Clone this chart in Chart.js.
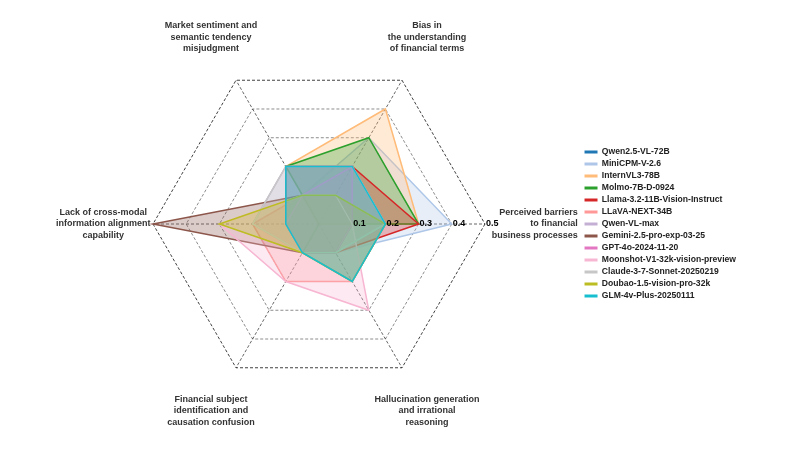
<!DOCTYPE html>
<html lang="en">
<head>
<meta charset="UTF-8" />
<title>Radar</title>
<script src="https://cdn.jsdelivr.net/npm/chart.js"></script>
<style>
  body { margin: 0; background: #fff; }
</style>
</head>
<body>
<canvas id="radarChart" width="797" height="449"></canvas>
<script>
// axes, clockwise from the right
const axisLabels = [
    ["Perceived barriers", "to financial", "business processes"],
    ["Hallucination generation", "and irrational", "reasoning"],
    ["Financial subject", "identification and", "causation confusion"],
    ["Lack of cross-modal", "information alignment", "capability"],
    ["Market sentiment and", "semantic tendency", "misjudgment"],
    ["Bias in", "the understanding", "of financial terms"],
];
const tickLabels = ["0.1", "0.2", "0.3", "0.4", "0.5"];

const models = [
    "Qwen2.5-VL-72B",
    "MiniCPM-V-2.6",
    "InternVL3-78B",
    "Molmo-7B-D-0924",
    "Llama-3.2-11B-Vision-Instruct",
    "LLaVA-NEXT-34B",
    "Qwen-VL-max",
    "Gemini-2.5-pro-exp-03-25",
    "GPT-4o-2024-11-20",
    "Moonshot-V1-32k-vision-preview",
    "Claude-3-7-Sonnet-20250219",
    "Doubao-1.5-vision-pro-32k",
    "GLM-4v-Plus-20250111",
];
const colors = [
    "#1f77b4", "#aec7e8", "#ffbb78", "#2ca02c", "#d62728", "#ff9896", "#c5b0d5",
    "#8c564b", "#e377c2", "#f7b6d2", "#c7c7c7", "#bcbd22", "#17becf",
];

const qwen25 = [0.2, 0.2, 0.1, 0.1, 0.2, 0.2];
const minicpm = [0.4, 0.1, 0.1, 0.1, 0.1, 0.3];
const internvl = [0.3, 0, 0, 0, 0.2, 0.4];
const molmo = [0.3, 0, 0.1, 0, 0.2, 0.3];
const llama = [0.3, 0.1, 0.1, 0.1, 0.2, 0.2];
const llava = [0.2, 0.2, 0.2, 0.2, 0.1, 0.1];
const qwenMax = [0.2, 0.1, 0.1, 0.2, 0.2, 0.2];
const gemini = [0.1, 0.1, 0.1, 0.5, 0.1, 0.1];
const gpt4o = [0.1, 0.1, 0.1, 0.1, 0.1, 0.2];
const moonshot = [0.1, 0.3, 0.2, 0.3, 0.1, 0.1];
const claude = [0.2, 0.1, 0.1, 0.2, 0.2, 0.2];
const doubao = [0.2, 0.2, 0.1, 0.3, 0.1, 0.1];
const glm = [0.2, 0.2, 0.1, 0.1, 0.2, 0.2];

const seriesData = [qwen25, minicpm, internvl, molmo, llama, llava, qwenMax,
    gemini, gpt4o, moonshot, claude, doubao, glm];

const FONT = "'Liberation Sans', Arial, sans-serif";

function withAlpha(hex, a) {
    const n = parseInt(hex.slice(1), 16);
    return `rgba(${n >> 16}, ${(n >> 8) & 255}, ${n & 255}, ${a})`;
}

// axis titles and tick numbers drawn along the scale
const axisText = {
    id: "axisText",
    afterDraw(chart) {
        const scale = chart.scales.r;
        const ctx = chart.ctx;
        ctx.save();
        ctx.font = "bold 9px " + FONT;
        ctx.fillStyle = "#333";
        ctx.textBaseline = "middle";
        const lh = 11.5;
        chart.data.labels.forEach((lines, i) => {
            const p = scale.getPointPosition(i, scale.drawingArea * 1.3);
            const maxW = Math.max(...lines.map((l) => ctx.measureText(l).width));
            lines.forEach((line, j) => {
                const y = p.y + (j - (lines.length - 1) / 2) * lh;
                if (i === 0) {
                    ctx.textAlign = "right";
                    ctx.fillText(line, p.x + maxW / 2, y);
                } else {
                    ctx.textAlign = "center";
                    ctx.fillText(line, p.x, y);
                }
            });
        });
        ctx.fillStyle = "#000";
        ctx.textAlign = "left";
        tickLabels.forEach((t) => {
            const p = scale.getPointPositionForValue(0, parseFloat(t));
            ctx.fillText(t, p.x + 1, p.y);
        });
        ctx.restore();
    },
};

const ctx = document.getElementById("radarChart").getContext("2d");
const chart = new Chart(ctx, {
    type: "radar",
    data: {
        labels: axisLabels,
        datasets: models.map((name, i) => ({
            label: name,
            data: seriesData[i],
            borderColor: colors[i],
            backgroundColor: withAlpha(colors[i], 0.3),
            borderWidth: 1.5,
            pointRadius: 0,
            fill: true,
            order: models.length - i,
        })),
    },
    options: {
        responsive: false,
        animation: false,
        layout: { padding: { left: 58, right: 51, top: 58, bottom: 59 } },
        scales: {
            r: {
                min: 0,
                max: 0.5,
                startAngle: 90,
                ticks: { display: false, stepSize: 0.1 },
                pointLabels: { display: false },
                grid: {
                    color: (c) => (c.index === 5 ? "rgba(0,0,0,0.75)" : "rgba(0,0,0,0.45)"),
                    lineWidth: 1,
                },
                border: { dash: [3, 2] },
                angleLines: { color: "rgba(0,0,0,0.6)", borderDash: [3, 2] },
            },
        },
        plugins: {
            tooltip: { enabled: false },
            legend: {
                position: "right",
                labels: {
                    usePointStyle: true,
                    pointStyle: "line",
                    pointStyleWidth: 13,
                    boxHeight: 8.6,
                    padding: 3.4,
                    color: "#222",
                    font: { size: 8.6, weight: "bold", family: FONT },
                    sort: (a, b) => a.datasetIndex - b.datasetIndex,
                    generateLabels(chart) {
                        const items = Chart.defaults.plugins.legend.labels.generateLabels(chart);
                        items.forEach((it) => { it.lineWidth = 3; });
                        return items;
                    },
                },
            },
        },
    },
    plugins: [axisText],
});
</script>
</body>
</html>
